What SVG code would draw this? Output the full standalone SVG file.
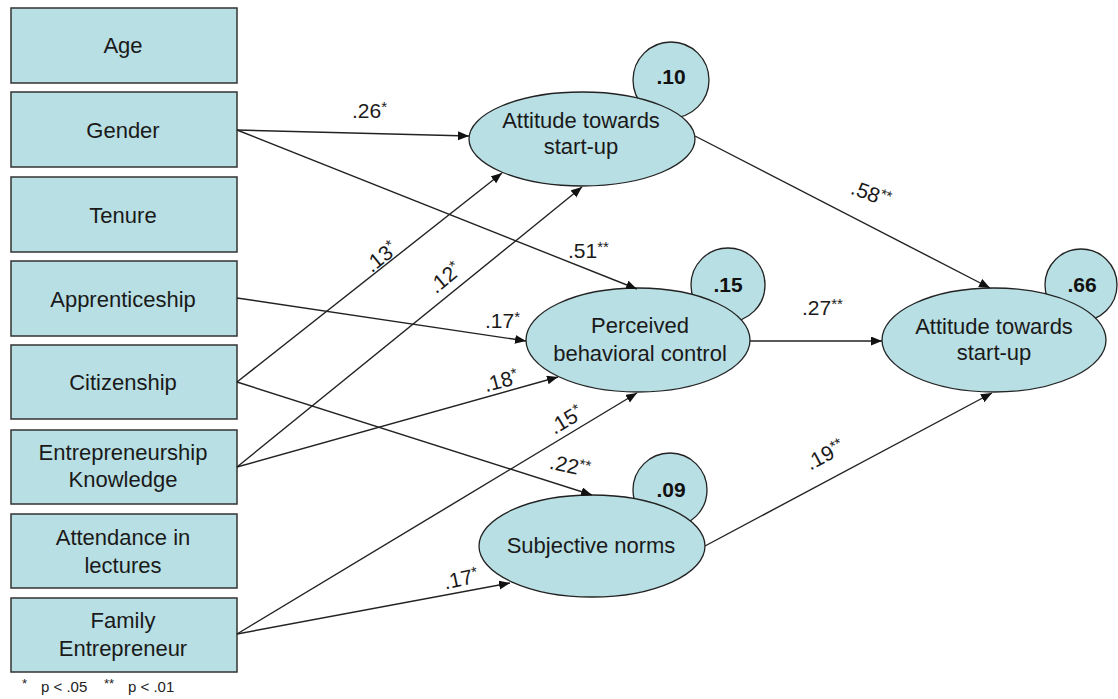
<svg xmlns="http://www.w3.org/2000/svg" width="1118" height="699" viewBox="0 0 1118 699">
<style>
.box{fill:#b8dfe3;stroke:#333;stroke-width:1.5}
.ell{fill:#b8dfe3;stroke:#222;stroke-width:1.3}
.t{font-family:"Liberation Sans",Arial,sans-serif;font-size:22px;fill:#1a1a1a;text-anchor:middle}
.r{font-family:"Liberation Sans",Arial,sans-serif;font-size:21px;font-weight:bold;fill:#111;text-anchor:middle}
.l{font-family:"Liberation Sans",Arial,sans-serif;font-size:21px;fill:#1a1a1a}
.lc{text-anchor:middle}
.s{font-size:15px}
.con{stroke:#222;stroke-width:1.4;fill:none;marker-end:url(#ah)}
.fn{font-family:"Liberation Sans",Arial,sans-serif;font-size:15px;fill:#222}
</style>
<defs>
<marker id="ah" markerUnits="userSpaceOnUse" markerWidth="12" markerHeight="10" refX="11" refY="4.5" orient="auto">
<path d="M0,0 L11,4.5 L0,9 z" fill="#111"/>
</marker>
</defs>
<rect width="1118" height="699" fill="#fff"/>

<g id="age"><rect class="box" x="11" y="8" width="226" height="75"/><text class="t" x="123" y="53">Age</text></g>
<g id="gender"><rect class="box" x="11" y="92" width="226" height="75"/><text class="t" x="123" y="138">Gender</text></g>
<g id="tenure"><rect class="box" x="11" y="177" width="226" height="75"/><text class="t" x="123" y="223">Tenure</text></g>
<g id="apprenticeship"><rect class="box" x="11" y="261" width="226" height="75"/><text class="t" x="123" y="307">Apprenticeship</text></g>
<g id="citizenship"><rect class="box" x="11" y="345" width="226" height="74"/><text class="t" x="123" y="390">Citizenship</text></g>
<g id="entrepreneurship-knowledge"><rect class="box" x="11" y="430" width="226" height="74"/><text class="t" x="123" y="460">Entrepreneurship</text><text class="t" x="123" y="487">Knowledge</text></g>
<g id="attendance"><rect class="box" x="11" y="514" width="226" height="74"/><text class="t" x="123" y="545">Attendance in</text><text class="t" x="123" y="573">lectures</text></g>
<g id="family-entrepreneur"><rect class="box" x="11" y="598" width="226" height="74"/><text class="t" x="123" y="628">Family</text><text class="t" x="123" y="656">Entrepreneur</text></g>

<g id="res-attitude1"><circle class="ell" cx="671" cy="80" r="38"/><text class="r" x="671" y="84">.10</text></g>
<g id="res-pbc"><circle class="ell" cx="728" cy="285" r="37"/><text class="r" x="728" y="292">.15</text></g>
<g id="res-attitude2"><circle class="ell" cx="1081" cy="285" r="36"/><text class="r" x="1082" y="292">.66</text></g>
<g id="res-sn"><circle class="ell" cx="670" cy="490" r="37"/><text class="r" x="671" y="497">.09</text></g>

<g id="attitude1"><ellipse class="ell" cx="582" cy="139" rx="113" ry="47"/><text class="t" x="581" y="128">Attitude towards</text><text class="t" x="581" y="154">start-up</text></g>
<g id="pbc"><ellipse class="ell" cx="638" cy="340" rx="112" ry="52"/><text class="t" x="640" y="333">Perceived</text><text class="t" x="640" y="361">behavioral control</text></g>
<g id="attitude2"><ellipse class="ell" cx="994" cy="340" rx="112" ry="52"/><text class="t" x="994" y="334">Attitude towards</text><text class="t" x="994" y="360">start-up</text></g>
<g id="sn"><ellipse class="ell" cx="592" cy="546" rx="113" ry="51"/><text class="t" x="591" y="553">Subjective norms</text></g>

<g id="connectors">
<path class="con" d="M237,130 L469,136"/>
<path class="con" d="M237,130 L637,289"/>
<path class="con" d="M237,382 L502,173"/>
<path class="con" d="M237,467 L582,187"/>
<path class="con" d="M237,298 L526,341"/>
<path class="con" d="M237,467 L558,377"/>
<path class="con" d="M237,634 L637,393"/>
<path class="con" d="M237,382 L592,495"/>
<path class="con" d="M237,634 L510,583"/>
<path class="con" d="M695,136 L990,288"/>
<path class="con" d="M750,341 L882,341"/>
<path class="con" d="M705,546 L992,393"/>

<text class="l" x="352" y="118">.26<tspan class="s" dy="-6">*</tspan></text>
<text class="l" x="568" y="258">.51<tspan class="s" dy="-6">**</tspan></text>
<text class="l" x="485" y="328">.17<tspan class="s" dy="-6">*</tspan></text>
<text class="l" x="802" y="315">.27<tspan class="s" dy="-6">**</tspan></text>
<text class="l lc" transform="translate(381,257) rotate(-39)" x="0" y="7">.13<tspan class="s" dy="-6">*</tspan></text>
<text class="l lc" transform="translate(445,278) rotate(-40)" x="0" y="7">.12<tspan class="s" dy="-6">*</tspan></text>
<text class="l lc" transform="translate(501,381) rotate(-15)" x="0" y="7">.18<tspan class="s" dy="-6">*</tspan></text>
<text class="l lc" transform="translate(566,420) rotate(-31)" x="0" y="7">.15<tspan class="s" dy="-6">*</tspan></text>
<text class="l lc" transform="translate(570,466) rotate(12)" x="0" y="7">.22<tspan class="s" dy="-6">**</tspan></text>
<text class="l lc" transform="translate(461,579) rotate(-12)" x="0" y="7">.17<tspan class="s" dy="-6">*</tspan></text>
<text class="l lc" transform="translate(871,194) rotate(20)" x="0" y="7">.58<tspan class="s" dy="-6">**</tspan></text>
<text class="l lc" transform="translate(825,455) rotate(-28)" x="0" y="7">.19<tspan class="s" dy="-6">**</tspan></text>
</g>

<text class="fn" x="22" y="692"><tspan font-size="13" dy="-4">*</tspan><tspan x="41" dy="4">p &lt; .05</tspan><tspan x="104" font-size="13" dy="-4">**</tspan><tspan x="128" dy="4">p &lt; .01</tspan></text>
</svg>
